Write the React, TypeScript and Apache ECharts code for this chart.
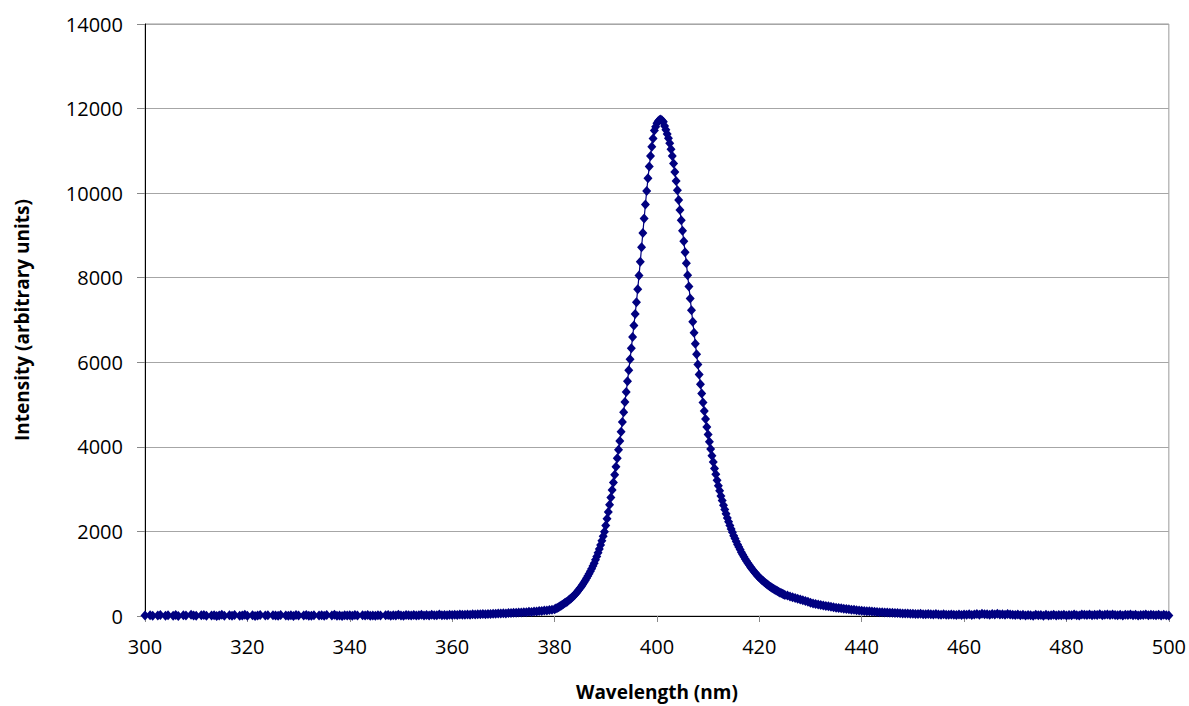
import React, { useEffect, useRef } from "react";
import * as echarts from "echarts";

const tailLeftStart = 300;
const tailLeftStep = 0.5;
const tailLeft = [
  12, -8, 20, 5, -15, 10, 25, -5, 8, 18, -10, 6, 22, 0, -12, 15, 9, -4, 28, 11,
  3, -9, 17, 24, 6, -14, 10, 19, -2, 13, 27, 4, -7, 16, 8, 21, -11, 5, 14, 30,
  7, -6, 18, 2, 12, 23, -9, 9, 15, -3, 20, 11, 6, 26, -8, 13, 4, 17, 1, 22,
  10, -5, 14, 25, 3, 8, 19, -7, 12, 16, 5, 21, -4, 9, 28, 6, 13, -2, 18, 11,
  15, 4, 22, 9, -6, 17, 12, 26, 3, 14, 8, 20, 11, -3, 19, 24, 7, 15, 10, 29,
  13, 6, 21, 16, 9, 25, 12, 18, 30, 14, 22, 11, 27, 19, 15, 33, 20, 26, 17, 31,
  24, 29, 21, 35, 27, 32, 38, 30, 41, 36, 44, 39, 47, 42, 50, 46, 55, 52, 60, 57,
  64, 62, 70, 68, 76, 74, 83, 81, 90, 88, 98, 97, 107, 106, 117, 118, 129, 131, 142, 148,
];

const peakStart = 380;
const peakStep = 0.25;
const peak = [
  160, 175, 190, 205, 225, 245, 265, 285,
  305, 325, 345, 370, 395, 420, 450, 480,
  510, 545, 580, 620, 660, 700, 745, 790,
  840, 890, 945, 1000, 1060, 1120, 1185, 1250,
  1330, 1410, 1495, 1585, 1680, 1780, 1885, 1995,
  2140, 2300, 2460, 2630, 2800, 2980, 3160, 3340,
  3530, 3730, 3930, 4140, 4360, 4590, 4820, 5060,
  5300, 5550, 5810, 6070, 6330, 6600, 6870, 7140,
  7420, 7730, 8050, 8380, 8720, 9060, 9400, 9730,
  10050, 10350, 10630, 10880, 11100, 11290, 11480, 11570,
  11650, 11700, 11730, 11740, 11720, 11690, 11590, 11500,
  11400, 11300, 11180, 11040, 10880, 10700, 10500, 10290,
  10070, 9840, 9600, 9360, 9110, 8860, 8600, 8340,
  8060, 7790, 7510, 7230, 6960, 6700, 6440, 6190,
  5950, 5710, 5480, 5260, 5050, 4850, 4660, 4470,
  4290, 4120, 3950, 3790, 3640, 3490, 3350, 3210,
  3080, 2960, 2840, 2730, 2620, 2520, 2420, 2320,
  2230, 2140, 2060, 1980, 1900, 1830, 1760, 1690,
  1630, 1570, 1510, 1455, 1400, 1350, 1300, 1255,
  1210, 1165, 1125, 1085, 1045, 1010, 975, 940,
  910, 880, 850, 825, 800, 775, 750, 728,
  706, 685, 665, 645, 626, 608, 590, 573,
  557, 541, 526, 512, 498,
];

const tailRightStart = 425.5;
const tailRightStep = 0.5;
const tailRight = [
  484, 462, 445, 428, 410, 388, 370, 352, 336, 316, 298, 284, 271, 258, 248,
  236, 228, 216, 208, 198, 191, 181, 174, 165, 159, 150, 145, 136, 131,
  124, 120, 113, 110, 104, 99, 96, 90, 88, 84, 80, 76, 74, 70, 68, 66, 61, 60, 57, 55,
  52, 50, 47, 52, 44, 41, 48, 39, 36, 45, 34, 31, 40, 30, 27, 38, 29, 24, 33, 26,
  35, 28, 41, 24, 37, 46, 30, 52, 39, 44, 27, 48, 36, 55, 33, 42, 29, 50, 38, 31,
  25, 34, 18, 29, 12, 26, 20, 8, 31, 16, 22, 6, 27, 14, 19, 30, 9, 23, 15, 28,
  11, 24, 17, 33, 20, 13, 36, 27, 22, 38, 18, 30, 25, 41, 16, 29, 34, 21, 37, 26,
  19, 32, 14, 28, 23, 35, 17, 30, 12, 26, 21, 33, 15, 29, 24, 18, 31, 13, 27, 20,
  10,
];

const xTicks = { min: 300, max: 500, interval: 20 };
const yTicks = { min: 0, max: 14000, interval: 2000 };
const xTitle = "Wavelength (nm)";
const yTitle = "Intensity (arbitrary units)";

function segment(start: number, step: number, values: number[]): [number, number][] {
  return values.map((v, i) => [+(start + i * step).toFixed(2), v]);
}

export default function App() {
  const ref = useRef<HTMLDivElement>(null);
  useEffect(() => {
    if (!ref.current) return;
    const chart = echarts.init(ref.current, undefined, { renderer: "svg" });
    const data = [
      ...segment(tailLeftStart, tailLeftStep, tailLeft),
      ...segment(peakStart, peakStep, peak),
      ...segment(tailRightStart, tailRightStep, tailRight),
    ];
    const font = "'Open Sans', 'Noto Sans', sans-serif";
    chart.setOption({
      animation: false,
      backgroundColor: "#ffffff",
      grid: {
        left: 145,
        right: 20,
        top: 24,
        bottom: 84,
        show: true,
        borderColor: "#999999",
        borderWidth: 1,
      },
      xAxis: {
        type: "value",
        min: xTicks.min,
        max: xTicks.max,
        interval: xTicks.interval,
        name: xTitle,
        nameLocation: "middle",
        nameGap: 66,
        nameTextStyle: { fontFamily: font, fontSize: 19, fontWeight: "bold", color: "#000" },
        axisLine: { lineStyle: { color: "#000", width: 1 } },
        axisTick: { show: true, length: 6, lineStyle: { color: "#888" } },
        axisLabel: {
          fontFamily: font,
          fontSize: 20,
          color: "#000",
          margin: 20,
          formatter: (v: number) => String(v),
        },
        splitLine: { show: false },
      },
      yAxis: {
        type: "value",
        min: yTicks.min,
        max: yTicks.max,
        interval: yTicks.interval,
        name: yTitle,
        nameLocation: "middle",
        nameGap: 114,
        nameRotate: 90,
        nameTextStyle: { fontFamily: font, fontSize: 19, fontWeight: "bold", color: "#000" },
        axisLine: { show: true, lineStyle: { color: "#000", width: 1 } },
        axisTick: { show: true, length: 8, lineStyle: { color: "#888" } },
        axisLabel: {
          fontFamily: font,
          fontSize: 20,
          color: "#000",
          margin: 22,
          formatter: (v: number) => String(v),
        },
        splitLine: { show: true, lineStyle: { color: "#a6a6a6", width: 1 } },
      },
      series: [
        {
          type: "line",
          data,
          showAllSymbol: true,
          symbol: "diamond",
          symbolSize: [9, 10],
          itemStyle: { color: "#000080" },
          lineStyle: { color: "#000080", width: 1.2 },
          silent: true,
        },
      ],
    });
    return () => chart.dispose();
  }, []);
  return (
    <div
      ref={ref}
      style={{ position: "fixed", left: 0, top: 0, width: 1189, height: 706, background: "#fff" }}
    />
  );
}
